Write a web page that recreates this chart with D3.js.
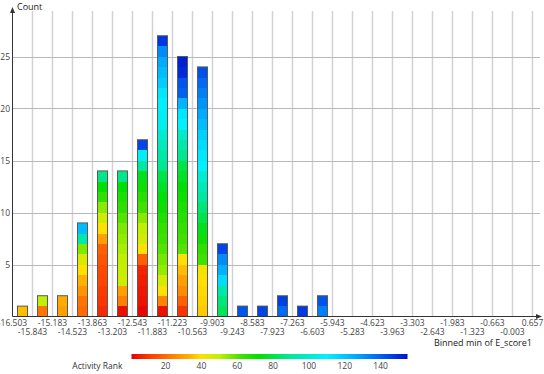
<!DOCTYPE html>
<html>
<head>
<meta charset="utf-8">
<script src="https://cdn.jsdelivr.net/npm/d3@7"></script>
<style>
    html, body { margin: 0; padding: 0; background: #ffffff; }
    svg text { font-family: "Open Sans", "Noto Sans", sans-serif; }
</style>
</head>
<body>
<div id="chart"></div>
<script>
// Tick labels on the binned axis (bin edges)
var tickLabels = ["-16.503", "-15.843", "-15.183", "-14.523", "-13.863", "-13.203", "-12.543",
    "-11.883", "-11.223", "-10.563", "-9.903", "-9.243", "-8.583", "-7.923", "-7.263", "-6.603",
    "-5.943", "-5.283", "-4.623", "-3.963", "-3.303", "-2.643", "-1.983", "-1.323", "-0.663",
    "-0.003", "0.657"];

// Bins (named by their min) and the activity rank of each record in the bin
var bins = tickLabels.slice(0, 26);
var activityRanks = [
    [35],
    [22, 50],
    [30, 32],
    [20, 22, 28, 33, 40, 46, 56, 92, 122],
    [8, 10, 11, 13, 14, 16, 18, 30, 40, 48, 55, 65, 72, 88],
    [3, 24, 30, 48, 49, 50, 52, 54, 56, 60, 65, 68, 72, 88],
    [2, 4, 5, 6, 7, 18, 40, 47, 50, 55, 62, 66, 70, 75, 90, 108, 145],
    [4, 25, 40, 47, 54, 57, 60, 62, 64, 67, 70, 73, 76, 80, 88, 91, 96, 100, 106, 108, 110, 112, 118, 122, 126, 132, 148],
    [10, 18, 26, 30, 35, 40, 60, 62, 64, 66, 68, 70, 72, 76, 80, 88, 92, 98, 110, 112, 124, 140, 142, 150, 152],
    [37, 38, 39, 40, 42, 62, 65, 70, 75, 80, 85, 90, 95, 100, 110, 112, 115, 117, 122, 126, 130, 134, 138, 143],
    [82, 86, 92, 115, 125, 132, 145],
    [142],
    [145],
    [138, 146],
    [147],
    [134, 142],
    [], [], [], [], [], [], [], [], [], []
];

// Y ticks and legend ticks
var yTicks = [5, 10, 15, 20, 25];
var legendTicks = [20, 40, 60, 80, 100, 120, 140];

// Color stops for activity rank
var rankStops = [1, 12, 24, 33, 40, 50, 62, 72, 90, 110, 125, 140, 155];
var rankColors = ["#e80000", "#ff4000", "#ff8000", "#ffb000", "#ffe000", "#c0f000", "#40e000",
    "#00e000", "#00e8a0", "#00f0ff", "#00b0ff", "#0060f0", "#0010d0"];

// Sizing
var width = 544;
var height = 374;

var svg = d3.select("#chart")
    .append("svg")
    .attr("width", width)
    .attr("height", height);

// Scales
var x = d3.scaleBand()
    .domain(bins)
    .range([12.5, 532.5])
    .paddingInner(0.5)
    .paddingOuter(0.25);

var xEdges = d3.scalePoint()
    .domain(tickLabels)
    .range([12.5, 532.5]);

var y = d3.scaleLinear()
    .domain([0, 25])
    .range([316.5, 56.5]);

var color = d3.scaleLinear()
    .domain(rankStops)
    .range(rankColors)
    .clamp(true);

// Grid
svg.append("g")
    .selectAll("line")
    .data(tickLabels.slice(1))
    .enter()
    .append("line")
    .attr("x1", d => xEdges(d))
    .attr("x2", d => xEdges(d))
    .attr("y1", 11)
    .attr("y2", 316)
    .attr("stroke", "#d2d2d2")
    .attr("stroke-width", 1.5);

svg.append("g")
    .selectAll("line")
    .data(yTicks)
    .enter()
    .append("line")
    .attr("x1", 12.5)
    .attr("x2", 540)
    .attr("y1", d => Math.round(y(d)) + 0.5)
    .attr("y2", d => Math.round(y(d)) + 0.5)
    .attr("stroke", "#b8b8b8")
    .attr("stroke-width", 1);

// Bars: one cell per record, stacked by rank
var bar = svg.append("g")
    .selectAll("g")
    .data(bins.map((b, i) => ({ bin: b, ranks: activityRanks[i] })))
    .enter()
    .append("g");

bar.selectAll("rect")
    .data(d => d.ranks.map((r, k) => ({ bin: d.bin, rank: r, k: k })))
    .enter()
    .append("rect")
    .attr("x", d => x(d.bin))
    .attr("width", x.bandwidth())
    .attr("y", d => y(d.k + 1))
    .attr("height", d => y(d.k) - y(d.k + 1) + 0.3)
    .attr("fill", d => color(d.rank))
    .attr("shape-rendering", "crispEdges");

bar.filter(d => d.ranks.length > 0)
    .append("rect")
    .attr("x", d => x(d.bin))
    .attr("width", x.bandwidth())
    .attr("y", d => y(d.ranks.length))
    .attr("height", d => y(0) - y(d.ranks.length))
    .attr("fill", "none")
    .attr("stroke", "#5a5a5a")
    .attr("stroke-width", 1);

// Axes with arrows
svg.append("line")
    .attr("x1", 12.5).attr("x2", 12.5)
    .attr("y1", 316.5).attr("y2", 10)
    .attr("stroke", "#333").attr("stroke-width", 1);
svg.append("path")
    .attr("d", "M12.5,7 L10,13 L15,13 Z")
    .attr("fill", "#333");

svg.append("line")
    .attr("x1", 12.5).attr("x2", 539)
    .attr("y1", 316.5).attr("y2", 316.5)
    .attr("stroke", "#333").attr("stroke-width", 1);
svg.append("path")
    .attr("d", "M542,316.5 L536,314 L536,319 Z")
    .attr("fill", "#333");

// Y tick labels
svg.append("g")
    .selectAll("text")
    .data(yTicks)
    .enter()
    .append("text")
    .attr("x", 10)
    .attr("y", d => y(d) + 3)
    .attr("text-anchor", "end")
    .attr("font-size", 8.5)
    .attr("fill", "#444")
    .text(d => d);

// X tick labels, alternating rows
svg.append("g")
    .selectAll("text")
    .data(tickLabels)
    .enter()
    .append("text")
    .attr("x", d => xEdges(d))
    .attr("y", (d, i) => i % 2 === 0 ? 326 : 334.5)
    .attr("text-anchor", "middle")
    .attr("font-size", 8.5)
    .attr("fill", "#444")
    .text(d => d);

// Axis titles
svg.append("text")
    .attr("x", 17)
    .attr("y", 10)
    .attr("font-size", 9)
    .attr("fill", "#222")
    .text("Count");

svg.append("text")
    .attr("x", 532)
    .attr("y", 346)
    .attr("text-anchor", "end")
    .attr("font-size", 9)
    .attr("fill", "#222")
    .text("Binned min of E_score1");

// Legend
var legendX = d3.scaleLinear()
    .domain([1, 155])
    .range([131.5, 407.5]);

var grad = svg.append("defs")
    .append("linearGradient")
    .attr("id", "rankGradient")
    .attr("x1", "0%").attr("x2", "100%");

grad.selectAll("stop")
    .data(rankStops)
    .enter()
    .append("stop")
    .attr("offset", d => ((d - 1) / 154 * 100) + "%")
    .attr("stop-color", d => color(d));

svg.append("rect")
    .attr("x", legendX(1))
    .attr("y", 354)
    .attr("width", legendX(155) - legendX(1))
    .attr("height", 5)
    .attr("fill", "url(#rankGradient)");

svg.append("g")
    .selectAll("text")
    .data(legendTicks)
    .enter()
    .append("text")
    .attr("x", d => legendX(d))
    .attr("y", 369)
    .attr("text-anchor", "middle")
    .attr("font-size", 8.5)
    .attr("fill", "#444")
    .text(d => d);

svg.append("text")
    .attr("x", 122.5)
    .attr("y", 369)
    .attr("text-anchor", "end")
    .attr("font-size", 8.5)
    .attr("fill", "#333")
    .text("Activity Rank");
</script>
</body>
</html>
